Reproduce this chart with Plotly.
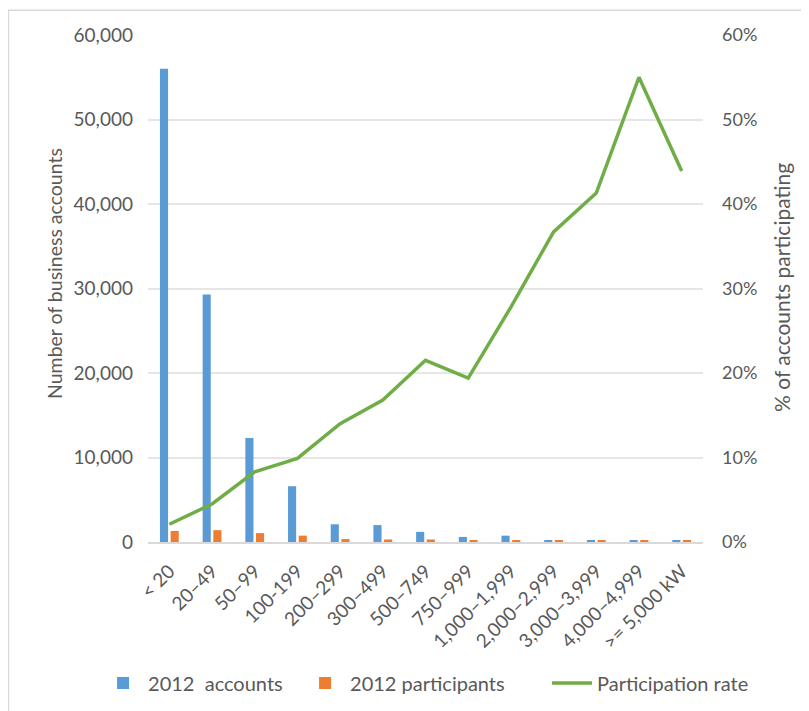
import plotly.graph_objects as go

categories = ["< 20", "20–49", "50–99", "100-199", "200–299", "300–499", "500–749",
              "750–999", "1,000–1,999", "2,000–2,999", "3,000–3,999", "4,000–4,999", ">= 5,000 kW"]
accounts_2012 = [56000, 29300, 12300, 6600, 2100, 2000, 1200, 600, 750, 180, 180, 180, 180]
participants_2012 = [1300, 1400, 1050, 750, 350, 300, 300, 180, 180, 180, 180, 180, 180]
participation_rate = [0.021, 0.045, 0.083, 0.099, 0.140, 0.168, 0.215, 0.194, 0.278, 0.367, 0.413, 0.550, 0.439]

font_col = "#595959"
fam = "Lato, Open Sans, sans-serif"
fig = go.Figure()
fig.add_trace(go.Bar(x=categories, y=accounts_2012, name="2012  accounts", legend="legend",
                     showlegend=True, marker=dict(color="#5b9bd5", line=dict(width=0))))
fig.add_trace(go.Bar(x=categories, y=participants_2012, name="2012 participants", legend="legend2",
                     showlegend=True, marker=dict(color="#ed7d31", line=dict(width=0))))
fig.add_trace(go.Scatter(x=categories, y=participation_rate, name="Participation rate", legend="legend3",
                         showlegend=True, mode="lines", line=dict(color="#70ad47", width=3.5), yaxis="y2"))

leg_common = dict(orientation="h", y=-0.278, yanchor="middle", xanchor="left",
                  font=dict(size=20, color=font_col), itemwidth=40, bgcolor="rgba(0,0,0,0)")

fig.update_layout(
    width=809, height=711, showlegend=True,
    margin=dict(l=140, r=114, t=27, b=177, autoexpand=False),
    paper_bgcolor="white", plot_bgcolor="white",
    font=dict(family=fam, size=18, color=font_col),
    barmode="group", bargap=0.5, bargroupgap=0.24,
    xaxis=dict(tickangle=-45, showgrid=False, showline=True, linecolor="#d9d9d9", linewidth=1.5,
               ticks="", tickfont=dict(size=19, color=font_col), automargin=False,
               ticklabelstandoff=9),
    yaxis=dict(range=[0, 60000], dtick=10000, tickformat=",", showgrid=True,
               gridcolor="#e6e6e6", gridwidth=1.5, zeroline=False, automargin=False,
               tickfont=dict(size=19, color=font_col), ticklabelstandoff=14,
               ticks="", ticklen=0),
    yaxis2=dict(range=[0, 0.6], dtick=0.1, tickformat=".0%", overlaying="y", side="right",
                showgrid=False, zeroline=False, automargin=False, ticklabelstandoff=18,
                tickfont=dict(size=18, color=font_col)),
    legend=dict(leg_common, x=-0.090),
    legend2=dict(leg_common, x=0.274),
    legend3=dict(leg_common, x=0.719),
    annotations=[
        dict(text="Number of business accounts", xref="paper", yref="paper", x=-0.1676, y=0.5306,
             textangle=-90, showarrow=False, xanchor="center", yanchor="middle",
             font=dict(size=19.5, color=font_col)),
        dict(text="% of accounts participating", xref="paper", yref="paper", x=1.1423, y=0.503,
             textangle=-90, showarrow=False, xanchor="center", yanchor="middle",
             font=dict(size=21, color=font_col)),
    ],
    shapes=[dict(type="rect", xref="paper", yref="paper", x0=-0.2514, x1=1.3, y0=-0.5, y1=1.049,
                 line=dict(color="#d9d9d9", width=1.5), fillcolor="rgba(0,0,0,0)", layer="below")],
)

fig.write_html("out.html")
